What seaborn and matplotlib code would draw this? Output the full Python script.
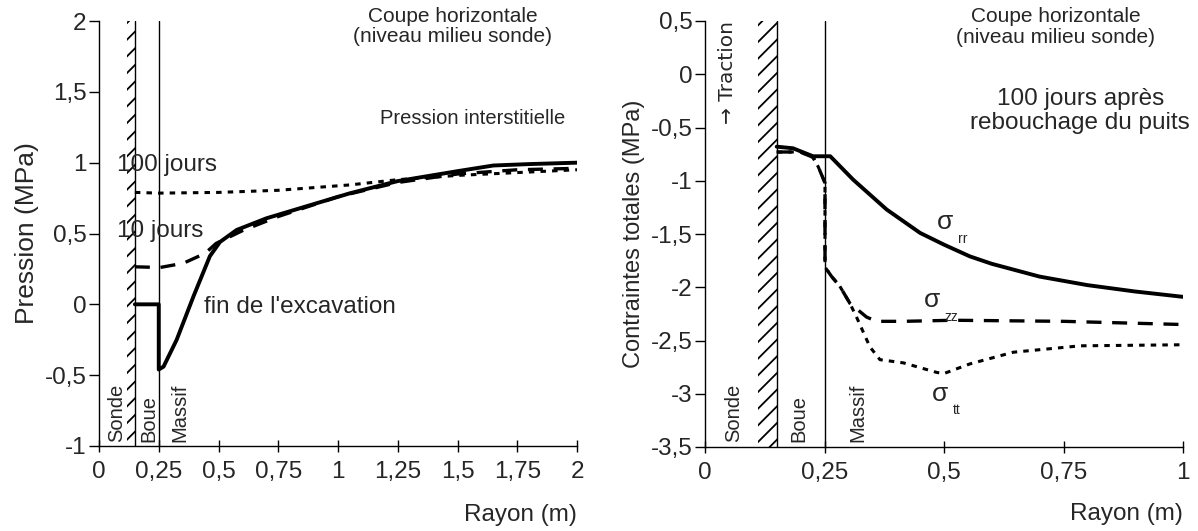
import numpy as np
import pandas as pd
import seaborn as sns
import matplotlib.pyplot as plt

sns.set_style("ticks")
plt.rcParams['font.family'] = ['Liberation Sans', 'DejaVu Sans']
plt.rcParams['hatch.linewidth'] = 1.3

# ---- left panel : pression interstitielle ----
fin_x = [0.15, 0.25, 0.25, 0.27, 0.325, 0.395, 0.464, 0.506, 0.576, 0.70, 0.84, 1.05, 1.25, 1.5, 1.65, 1.8, 2.0]
fin_y = [0.0, 0.0, -0.46, -0.44, -0.25, 0.055, 0.34, 0.44, 0.525, 0.607, 0.678, 0.784, 0.87, 0.94, 0.98, 0.99, 1.0]

j10_x = [0.15, 0.255, 0.353, 0.444, 0.49, 0.6, 0.75, 1.0, 1.25, 1.5, 1.75, 2.0]
j10_y = [0.265, 0.26, 0.29, 0.36, 0.43, 0.52, 0.62, 0.76, 0.86, 0.92, 0.95, 0.96]

j100_x = [0.15, 0.25, 0.5, 0.75, 1.05, 1.25, 1.5, 1.75, 2.0]
j100_y = [0.79, 0.785, 0.79, 0.805, 0.843, 0.88, 0.91, 0.93, 0.95]

left_xticks = [0, 0.25, 0.5, 0.75, 1, 1.25, 1.5, 1.75, 2]
left_xlabels = ["0", "0,25", "0,5", "0,75", "1", "1,25", "1,5", "1,75", "2"]
left_yticks = [-1, -0.5, 0, 0.5, 1, 1.5, 2]
left_ylabels = ["-1", "-0,5", "0", "0,5", "1", "1,5", "2"]

# ---- right panel : contraintes totales ----
srr_x = [0.15, 0.184, 0.226, 0.262, 0.31, 0.38, 0.45, 0.5, 0.554, 0.6, 0.7, 0.8, 0.9, 1.0]
srr_y = [-0.68, -0.695, -0.77, -0.77, -0.99, -1.27, -1.49, -1.6, -1.71, -1.78, -1.9, -1.98, -2.04, -2.09]

szz_x = [0.15, 0.199, 0.226, 0.237, 0.251, 0.251, 0.265, 0.282, 0.303, 0.338, 0.359, 0.415, 0.52, 0.75, 1.0]
szz_y = [-0.73, -0.73, -0.78, -0.87, -1.02, -1.81, -1.90, -1.99, -2.15, -2.28, -2.32, -2.32, -2.31, -2.32, -2.35]

stt_x = [0.15, 0.199, 0.226, 0.237, 0.251, 0.251, 0.265, 0.282, 0.303, 0.317, 0.345, 0.366, 0.415, 0.485, 0.5, 0.554, 0.645, 0.785, 1.0]
stt_y = [-0.73, -0.73, -0.78, -0.87, -1.02, -1.81, -1.90, -1.99, -2.15, -2.28, -2.56, -2.68, -2.71, -2.80, -2.81, -2.72, -2.61, -2.55, -2.54]

right_xticks = [0, 0.25, 0.5, 0.75, 1]
right_xlabels = ["0", "0,25", "0,5", "0,75", "1"]
right_yticks = [-3.5, -3, -2.5, -2, -1.5, -1, -0.5, 0, 0.5]
right_ylabels = ["-3,5", "-3", "-2,5", "-2", "-1,5", "-1", "-0,5", "0", "0,5"]

fig = plt.figure(figsize=(11.98, 5.31), dpi=100)
W, H = 1198, 531
ax1 = fig.add_axes([99 / W, (H - 446) / H, 478 / W, 425 / H])
ax2 = fig.add_axes([705 / W, (H - 447) / H, 478 / W, 426 / H])

fs = 17.5
dash = (0, (4.5, 3.2))
dot = (0, (1.8, 2.0))


def style_axis(ax, xt, xl, yt, yl, ylim, xlim):
    ax.set_xlim(*xlim)
    ax.set_ylim(*ylim)
    ax.set_xticks(xt)
    ax.set_xticklabels(xl, fontsize=fs)
    ax.set_yticks(yt)
    ax.set_yticklabels(yl, fontsize=fs)
    ax.tick_params(axis='y', length=7, width=1, pad=2, color='black')
    ax.tick_params(axis='x', direction='inout', length=9, width=1, pad=6, color='black')
    sns.despine(ax=ax)
    for s in ['left', 'bottom']:
        ax.spines[s].set_linewidth(1)
        ax.spines[s].set_color('black')


def sigma(ax, x, y, sub):
    ax.text(x, y, "σ", fontsize=19, ha='center', va='center')
    ax.annotate(sub, (x, y), xytext=(9, -12), textcoords='offset points',
                fontsize=10, ha='left', va='center')


# left panel
ax1.axvspan(0.117, 0.15, hatch='//', fill=False, lw=0, edgecolor='black')
ax1.axvline(0.15, color='black', lw=1)
ax1.axvline(0.25, color='black', lw=1)
sns.lineplot(x=fin_x, y=fin_y, ax=ax1, color='black', lw=2.8, sort=False, estimator=None)
sns.lineplot(x=j10_x, y=j10_y, ax=ax1, color='black', lw=2.4, sort=False, estimator=None,
             linestyle=dash)
sns.lineplot(x=j100_x, y=j100_y, ax=ax1, color='black', lw=2.2, sort=False, estimator=None,
             linestyle=dot)
style_axis(ax1, left_xticks, left_xlabels, left_yticks, left_ylabels, (-1, 2), (0, 2))
ax1.set_ylabel("Pression (MPa)", fontsize=19, labelpad=4)
ax1.set_xlabel("")
ax1.text(2.0, -1.49, "Rayon (m)", fontsize=fs, ha='right', va='center')

ax1.text(1.48, 2.1, "Coupe horizontale\n(niveau milieu sonde)", fontsize=15, ha='center',
         va='top', linespacing=1.1, clip_on=False)
ax1.text(1.95, 1.31, "Pression interstitielle", fontsize=14.5, ha='right', va='center')
ax1.text(0.075, 0.98, "100 jours", fontsize=fs, ha='left', va='center')
ax1.text(0.075, 0.52, "10 jours", fontsize=fs, ha='left', va='center')
ax1.text(0.44, -0.02, "fin de l'excavation", fontsize=fs, ha='left', va='center')
for xx, t in [(0.072, "Sonde"), (0.208, "Boue"), (0.34, "Massif")]:
    ax1.text(xx, -0.97, t, fontsize=14.5, rotation=90, ha='center', va='bottom')

# right panel
ax2.axvspan(0.11, 0.15, hatch='//', fill=False, lw=0, edgecolor='black')
ax2.axvline(0.15, color='black', lw=1)
ax2.axvline(0.25, color='black', lw=1)
sns.lineplot(x=srr_x, y=srr_y, ax=ax2, color='black', lw=2.8, sort=False, estimator=None)
sns.lineplot(x=szz_x, y=szz_y, ax=ax2, color='black', lw=2.4, sort=False, estimator=None,
             linestyle=dash)
sns.lineplot(x=stt_x, y=stt_y, ax=ax2, color='black', lw=2.2, sort=False, estimator=None,
             linestyle=dot)
style_axis(ax2, right_xticks, right_xlabels, right_yticks, right_ylabels, (-3.5, 0.5), (0, 1))
ax2.set_ylabel("Contraintes totales (MPa)", fontsize=17, labelpad=4)
ax2.set_xlabel("")
ax2.text(1.0, -4.13, "Rayon (m)", fontsize=fs, ha='right', va='center')

ax2.text(0.734, 0.63, "Coupe horizontale\n(niveau milieu sonde)", fontsize=15, ha='center',
         va='top', linespacing=1.1, clip_on=False)
ax2.text(0.785, -0.345, "100 jours après\nrebouchage du puits", fontsize=fs, ha='center',
         va='center', linespacing=1.1)
ax2.text(0.047, 0.5, "→ Traction", fontsize=14.5, rotation=90, ha='center', va='top',
         family=['DejaVu Sans'])
for xx, t in [(0.06, "Sonde"), (0.197, "Boue"), (0.32, "Massif")]:
    ax2.text(xx, -3.45, t, fontsize=14.5, rotation=90, ha='center', va='bottom')
sigma(ax2, 0.503, -1.39, "rr")
sigma(ax2, 0.475, -2.12, "zz")
sigma(ax2, 0.492, -3.0, "tt")

fig.savefig("out.png", dpi=100)
